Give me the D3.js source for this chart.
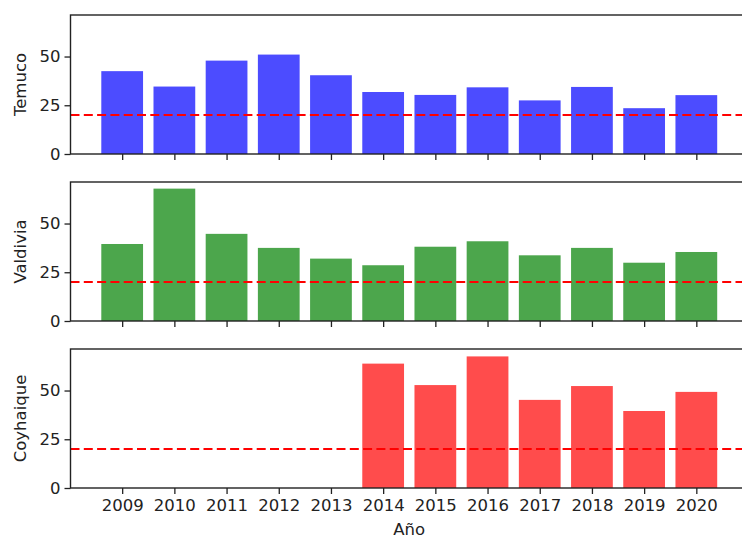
<!DOCTYPE html>
<html>
<head>
<meta charset="utf-8">
<script src="https://cdn.jsdelivr.net/npm/d3@7"></script>
<style>
  html, body { margin: 0; padding: 0; background: #fff; }
  svg { display: block; }
  text { font-family: "DejaVu Sans", sans-serif; fill: #222; }
</style>
</head>
<body>
<svg id="chart" width="742" height="540"></svg>
<script>
const years = [2009, 2010, 2011, 2012, 2013, 2014, 2015, 2016, 2017, 2018, 2019, 2020];
const temuco = [42.5, 34.6, 47.9, 51.0, 40.4, 31.8, 30.3, 34.2, 27.5, 34.4, 23.5, 30.2];
const valdivia = [39.5, 67.9, 44.7, 37.5, 32.0, 28.6, 38.1, 40.9, 33.7, 37.5, 29.9, 35.4];
const coyhaique = [null, null, null, null, null, 63.8, 52.8, 67.5, 45.2, 52.3, 39.5, 49.3];
const cities = ["Temuco", "Valdivia", "Coyhaique"];
const colors = ["blue", "green", "red"];
const yTicks = [0, 25, 50];
const threshold = 20;
const xLabel = "Año";

const seriesList = [temuco, valdivia, coyhaique];
const svg = d3.select("#chart");
const left = 70.5, right = 748;
const panelTops = [15, 182, 349];
const panelH = 139;
const fs = 16.5;

const x = d3.scaleLinear().domain([2008.01, 2020.99]).range([left, right]);
const barW = x(2009.8) - x(2009);

seriesList.forEach((vals, i) => {
  const top = panelTops[i];
  const y = d3.scaleLinear().domain([0, 71.3]).range([top + panelH, top]);
  const g = svg.append("g");

  // bars
  g.selectAll("rect.bar")
    .data(years.map((yr, k) => ({ yr, v: vals[k] })).filter(d => d.v != null))
    .join("rect")
    .attr("x", d => x(d.yr) - barW / 2)
    .attr("width", barW)
    .attr("y", d => y(d.v))
    .attr("height", d => y(0) - y(d.v))
    .attr("fill", colors[i])
    .attr("fill-opacity", 0.7);

  // threshold line
  g.append("line")
    .attr("x1", left).attr("x2", right)
    .attr("y1", y(threshold)).attr("y2", y(threshold))
    .attr("stroke", "red")
    .attr("stroke-width", 2)
    .attr("stroke-dasharray", "9,4.3");

  // spines
  g.append("rect")
    .attr("x", left).attr("y", top)
    .attr("width", right - left).attr("height", panelH)
    .attr("fill", "none")
    .attr("stroke", "#222")
    .attr("stroke-width", 1.4);

  // y axis
  const yAxis = d3.axisLeft(y).tickValues(yTicks).tickSize(6).tickPadding(4).tickFormat(d3.format("d"));
  const ya = g.append("g").attr("transform", `translate(${left},0)`).call(yAxis);
  ya.select(".domain").remove();
  ya.selectAll(".tick line").attr("stroke", "#222").attr("stroke-width", 1.3);
  ya.selectAll(".tick text").attr("font-size", fs).attr("font-family", "DejaVu Sans").attr("fill", "#222");

  // x axis
  const xAxis = d3.axisBottom(x).tickValues(years).tickSize(6).tickPadding(5).tickFormat(d3.format("d"));
  const xa = g.append("g").attr("transform", `translate(0,${top + panelH})`).call(xAxis);
  xa.select(".domain").remove();
  xa.selectAll(".tick line").attr("stroke", "#222").attr("stroke-width", 1.3);
  xa.selectAll(".tick text")
    .attr("font-size", fs).attr("font-family", "DejaVu Sans").attr("fill", "#222")
    .style("display", i === 2 ? null : "none");

  // y label
  g.append("text")
    .attr("transform", `translate(26,${top + panelH / 2}) rotate(-90)`)
    .attr("text-anchor", "middle")
    .attr("font-size", fs)
    .text(cities[i]);
});

svg.append("text")
  .attr("x", (left + right) / 2)
  .attr("y", 535)
  .attr("text-anchor", "middle")
  .attr("font-size", fs)
  .text(xLabel);
</script>
</body>
</html>
